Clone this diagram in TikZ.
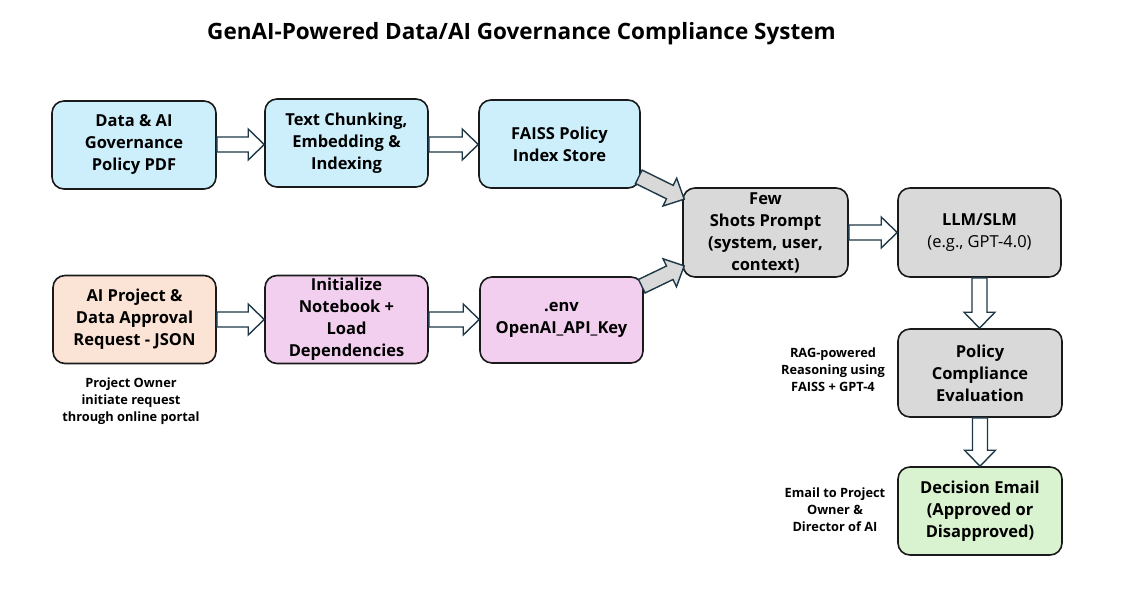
\documentclass[tikz,border=0pt]{standalone}
\usepackage{fontspec}
\setmainfont{Open Sans}
\usetikzlibrary{calc}
\definecolor{bluefill}{HTML}{CDEFFB}
\definecolor{peachfill}{HTML}{FBE3D5}
\definecolor{pinkfill}{HTML}{F2CEEF}
\definecolor{grayfill}{HTML}{D9D9D9}
\definecolor{greenfill}{HTML}{D9F2D0}
\definecolor{boxline}{HTML}{1A1A1A}
\definecolor{arrline}{HTML}{1F3847}
\tikzset{
  box/.style={draw=boxline, line width=1.6pt, rounded corners=12pt,
    minimum width=163pt, minimum height=88pt, align=center, inner sep=2pt,
    font=\bfseries\fontsize{16.5}{22}\selectfont, text=black},
  sidenote/.style={align=center, font=\bfseries\fontsize{12.8}{17}\selectfont, text=black},
  blockarr/.style={draw=arrline, line width=1.4pt, fill=white, line join=miter},
  grayarr/.style={blockarr, fill=grayfill}
}
\newcommand\barrow[3][]{%
  \path (#2) coordinate (ba1);
  \path (#3) coordinate (ba2);
  \pgfpointdiff{\pgfpointanchor{ba1}{center}}{\pgfpointanchor{ba2}{center}}%
  \pgfgetlastxy\bax\bay
  \pgfmathsetmacro\balen{veclen(\bax,\bay)}%
  \pgfmathsetmacro\baang{atan2(\bay,\bax)}%
  \draw[blockarr,#1,shift={(ba1)},rotate=\baang]
    (0pt,-7.5pt) -- (\balen pt-16pt,-7.5pt) -- (\balen pt-16pt,-15.5pt) --
    (\balen pt,0pt) -- (\balen pt-16pt,15.5pt) -- (\balen pt-16pt,7.5pt) --
    (0pt,7.5pt) -- cycle;
}
\begin{document}
\begin{tikzpicture}[x=1pt,y=-1pt]
\useasboundingbox[fill=white] (0,0) rectangle (1122,589);
\node[font=\bfseries\fontsize{22.5}{27}\selectfont] (title) at (521.5,34) {GenAI-Powered Data/AI Governance Compliance System};

\node[box, fill=bluefill, minimum width=164pt] (A) at (134,145) {Data \& AI\\Governance\\Policy PDF};
\node[box, fill=bluefill] (B) at (346.5,143) {Text Chunking,\\Embedding \&\\Indexing};
\node[box, fill=bluefill, minimum width=161pt] (C) at (559.5,144) {FAISS Policy\\Index Store};
\node[box, fill=grayfill, minimum width=165pt, minimum height=89pt] (D) at (765.5,232.5) {Few\\Shots Prompt\\(system, user,\\context)};
\node[box, fill=grayfill, minimum height=89pt] (E) at (979.5,232.5) {LLM/SLM\\{\mdseries (e.g., GPT-4.0)}};
\node[box, fill=peachfill] (F) at (134.5,319.5) {AI Project \&\\Data Approval\\Request - JSON};
\node[box, fill=pinkfill] (G) at (346.5,319.5) {Initialize\\Notebook +\\Load\\Dependencies};
\node[box, fill=pinkfill, minimum height=86pt] (H) at (561.5,320) {.env\\OpenAI\_API\_Key};
\node[box, fill=grayfill, minimum width=164pt] (I) at (980,373) {Policy\\Compliance\\Evaluation};
\node[box, fill=greenfill, minimum width=164pt] (J) at (980,511) {Decision Email\\(Approved or\\Disapproved)};

\node[sidenote] (n1) at (131,401) {Project Owner\\initiate request\\through online portal};
\node[sidenote] (n2) at (833,370) {RAG-powered\\Reasoning using\\FAISS + GPT-4};
\node[sidenote] (n3) at (835,510) {Email to Project\\Owner \&\\Director of AI};

\barrow{$(A.east)+(0,-0.5)$}{$(B.west |- A.east)+(0,-0.5)$}
\barrow{$(B.east)+(0,1.5)$}{$(C.west |- B.east)+(0,1.5)$}
\barrow{F.east}{G.west |- F.east}
\barrow{G.east}{H.west |- G.east}
\barrow{D.east}{E.west |- D.east}
\barrow{E.south}{I.north -| E.south}
\barrow{I.south}{J.north -| I.south}
\barrow[grayarr]{$(C.south east)+(-2,-12)$}{$(D.north west)+(2,12)$}
\barrow[grayarr]{$(H.north east)+(-2,10)$}{$(D.south west)+(2,-12)$}
\end{tikzpicture}
\end{document}
